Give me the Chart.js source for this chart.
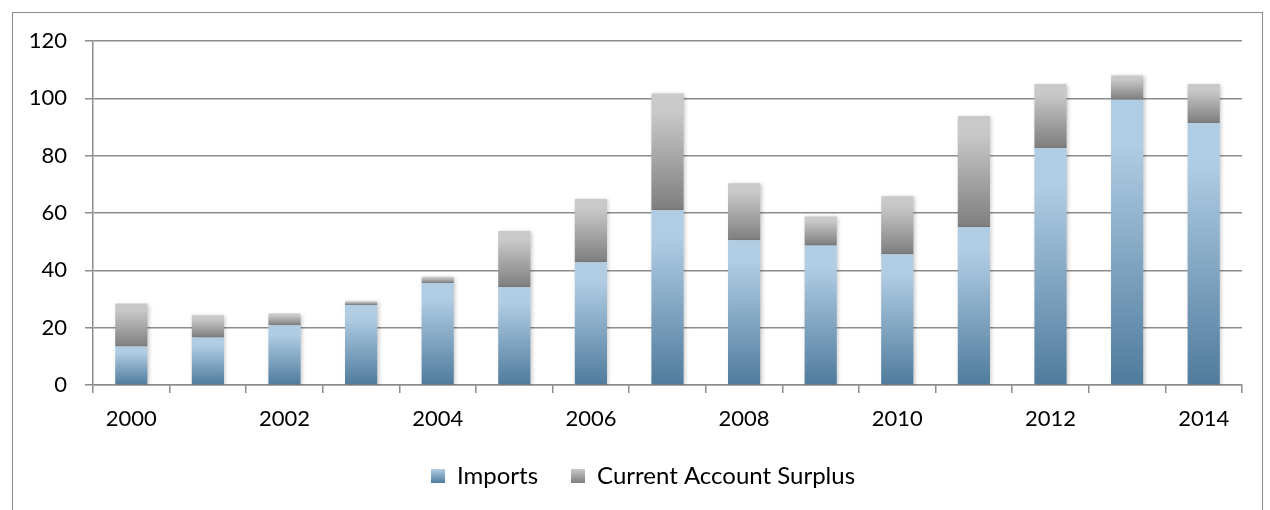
<!DOCTYPE html>
<html>
<head>
<meta charset="utf-8">
<script src="https://cdn.jsdelivr.net/npm/chart.js@4/dist/chart.umd.min.js"></script>
<style>
  html, body { margin: 0; padding: 0; background: #fff; overflow: hidden; }
  #wrap { position: relative; width: 1270px; height: 510px; }
  #frame { position: absolute; left: 12px; top: 12px; width: 1249px; height: 520px; border: 1px solid #8c8c8c; pointer-events: none; }
  #chart { position: absolute; left: 0; top: 0; }
</style>
</head>
<body>
<div id="wrap">
  <canvas id="chart" width="1270" height="510"></canvas>
  <div id="frame"></div>
</div>
<script>
// years on the x axis, every other one gets a label
const years = ['2000', '2001', '2002', '2003', '2004', '2005', '2006', '2007',
               '2008', '2009', '2010', '2011', '2012', '2013', '2014'];
const imports = [13.4, 16.6, 20.8, 27.9, 35.5, 34.1, 42.8, 61.0,
                 50.5, 48.7, 45.6, 55.0, 82.7, 99.5, 91.4];
const surplus = [15.0, 7.7, 4.1, 1.3, 2.3, 19.6, 22.1, 40.7,
                 19.9, 10.1, 20.2, 38.8, 22.3, 8.5, 13.6];
const yTicks = [0, 20, 40, 60, 80, 100, 120];

const GRID = '#8c8c8c';
const FONT = 'Lato, "Open Sans", sans-serif';

const blueStops = ['#4f7b9c', '#b1cde4'];
const greyStops = ['#7e7e7e', '#c9c9c9'];

// vertical gradient over one bar segment, dark at the bottom
function segmentFill(ctx, stops, base) {
    if (ctx.type !== 'data') return stops[1];
    const chart = ctx.chart;
    const y = chart.scales.y;
    if (!y) return stops[1];
    const i = ctx.dataIndex;
    const from = base ? base[i] : 0;
    const to = from + ctx.dataset.data[i];
    const g = chart.ctx.createLinearGradient(0, y.getPixelForValue(from), 0, y.getPixelForValue(to));
    g.addColorStop(0, stops[0]);
    g.addColorStop(0.85, stops[1]);
    g.addColorStop(1, stops[1]);
    return g;
}

// small square swatch for the legend
function swatch(stops) {
    const c = document.createElement('canvas');
    c.width = 14; c.height = 14;
    const x = c.getContext('2d');
    const g = x.createLinearGradient(0, 14, 0, 0);
    g.addColorStop(0, stops[0]);
    g.addColorStop(1, stops[1]);
    x.fillStyle = g;
    x.fillRect(0, 0, 14, 14);
    return c;
}
const swatches = [swatch(blueStops), swatch(greyStops)];

// soft drop shadow under the bars
const barShadow = {
    id: 'barShadow',
    beforeDatasetsDraw(chart) {
        const c = chart.ctx;
        c.save();
        c.shadowColor = 'rgba(0,0,0,0.22)';
        c.shadowBlur = 4;
        c.shadowOffsetX = 1.5;
        c.shadowOffsetY = 1;
    },
    afterDatasetsDraw(chart) {
        chart.ctx.restore();
    }
};

const ctx = document.getElementById('chart').getContext('2d');
const chart = new Chart(ctx, {
    type: 'bar',
    data: {
        labels: years,
        datasets: [
            {
                label: 'Imports',
                data: imports,
                backgroundColor: c => segmentFill(c, blueStops, null),
                borderWidth: 0
            },
            {
                label: 'Current Account Surplus',
                data: surplus,
                backgroundColor: c => segmentFill(c, greyStops, imports),
                borderWidth: 0
            }
        ]
    },
    options: {
        responsive: false,
        animation: false,
        devicePixelRatio: 1,
        layout: { padding: { left: 16, right: 0, top: 41, bottom: 12 } },
        datasets: {
            bar: { categoryPercentage: 1, barPercentage: 0.42 }
        },
        plugins: {
            tooltip: { enabled: false },
            legend: {
                position: 'bottom',
                labels: {
                    usePointStyle: true,
                    pointStyleWidth: 14,
                    boxHeight: 15,
                    padding: 33,
                    color: '#000',
                    font: { family: FONT, size: 24 },
                    generateLabels: chart => chart.data.datasets.map((ds, i) => ({
                        text: ds.label,
                        pointStyle: swatches[i],
                        fillStyle: 'transparent',
                        strokeStyle: 'transparent',
                        lineWidth: 0,
                        hidden: false,
                        datasetIndex: i
                    }))
                }
            }
        },
        scales: {
            x: {
                stacked: true,
                offset: true,
                afterFit: s => { s.height = 46; },
                grid: {
                    offset: true,
                    drawOnChartArea: false,
                    drawTicks: true,
                    tickLength: 8,
                    color: GRID,
                    lineWidth: 1.5
                },
                border: { color: GRID, width: 1.5 },
                ticks: {
                    autoSkip: false,
                    maxRotation: 0,
                    padding: 13,
                    color: '#000',
                    font: { family: FONT, size: 22 },
                    callback: (v, i) => (i % 2 === 0 ? years[i] : '')
                }
            },
            y: {
                stacked: true,
                min: yTicks[0],
                max: yTicks[yTicks.length - 1],
                afterFit: s => { s.width = 77; },
                afterBuildTicks: s => { s.ticks = yTicks.map(v => ({ value: v })); },
                grid: {
                    color: GRID,
                    lineWidth: 1.5,
                    tickLength: 8
                },
                border: { color: GRID, width: 1.5 },
                ticks: {
                    padding: 18,
                    color: '#000',
                    font: { family: FONT, size: 22 }
                }
            },
            // empty right margin so the plot stops short of the frame
            margin: {
                type: 'linear',
                position: 'right',
                afterFit: s => { s.width = 28; },
                grid: { display: false },
                border: { display: false },
                ticks: { display: false }
            }
        }
    },
    plugins: [barShadow]
});
</script>
</body>
</html>
